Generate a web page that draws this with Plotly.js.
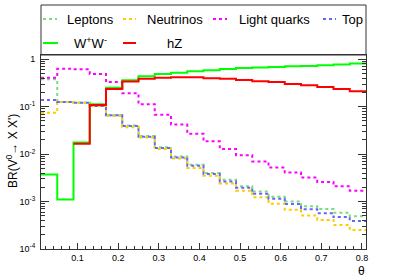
<!DOCTYPE html>
<html>
<head>
<meta charset="utf-8">
<script src="https://cdn.plot.ly/plotly-3.0.1.min.js"></script>
<style>html,body{margin:0;padding:0;background:#fff;}#chart{width:407px;height:277px;}</style>
</head>
<body>
<div id="chart"></div>
<script>
// Bin edges in theta
const binEdges = [0.01,0.05,0.09,0.13,0.17,0.21,0.25,0.29,0.33,0.37,0.41,0.45,0.49,0.53,0.57,0.61,0.65,0.69,0.73,0.77,0.81];

const leptons = [0.38,0.126,0.122,0.104,0.067,0.040,0.024,0.0140,0.0089,0.0060,0.0040,0.0029,0.0021,0.00163,0.00126,0.00100,0.00080,0.00070,0.00058,0.00049];
const neutrinos = [0.075,0.125,0.120,0.102,0.064,0.037,0.0225,0.0129,0.0081,0.0051,0.0035,0.0024,0.0017,0.00124,0.00090,0.00067,0.00051,0.00041,0.00032,0.00025];
const lightQuarks = [0.41,0.63,0.615,0.49,0.33,0.192,0.113,0.068,0.042,0.027,0.0186,0.0129,0.0095,0.0070,0.0052,0.0041,0.0032,0.0026,0.0021,0.0017];
const topQ = [0.139,0.125,0.121,0.103,0.066,0.039,0.0232,0.0135,0.0085,0.0057,0.0038,0.00265,0.00196,0.00146,0.00115,0.00089,0.00069,0.00057,0.00047,0.00039];
const wwPair = [0.0037,0.0011,0.0176,0.113,0.25,0.36,0.44,0.49,0.52,0.56,0.586,0.625,0.656,0.67,0.69,0.71,0.72,0.75,0.78,0.81];
const hZ = [null,null,0.0166,0.108,0.237,0.34,0.39,0.41,0.418,0.418,0.40,0.39,0.366,0.344,0.33,0.30,0.283,0.26,0.237,0.212];

const yTickVals = [1e-4,1e-3,1e-2,1e-1,1];
const yTickText = ['10<sup>-4</sup>','10<sup>-3</sup>','10<sup>-2</sup>','10<sup>-1</sup>','1'];
const xTickVals = [0.1,0.2,0.3,0.4,0.5,0.6,0.7,0.8];
const xTickText = ['0.1','0.2','0.3','0.4','0.5','0.6','0.7','0.8'];

const series = [
  {name:'Leptons', y:leptons, color:'#7ddc7d', dash:'dot'},
  {name:'Neutrinos', y:neutrinos, color:'#ffcc00', dash:'dot'},
  {name:'Light quarks', y:lightQuarks, color:'#ff00ff', dash:'dot'},
  {name:'Top', y:topQ, color:'#6464ff', dash:'dot'},
  {name:'W<sup>+</sup>W<sup>-</sup>', y:wwPair, color:'#00ff00', dash:'solid'},
  {name:'hZ', y:hZ, color:'#ff0000', dash:'solid'}
];

const traces = series.map(s => ({
  type:'scatter', mode:'lines', name:s.name,
  x: binEdges.slice(),
  y: s.y.concat([s.y[s.y.length-1]]),
  line:{shape:'hv', color:s.color, width:2, dash:s.dash},
  connectgaps:false, showlegend:false, hoverinfo:'skip'
}));

// minor tick positions (2..9 per decade)
const yMinor = [];
for (let e=-4; e<0; e++) for (let d=2; d<=9; d++) yMinor.push(d*Math.pow(10,e));

// plot frame in pixels
const L=41, R=366, T=55, B=249;
const px = x => (x-L)/(R-L);
const py = y => (B-y)/(B-T);

const shapes = [
  {type:'rect', xref:'paper', yref:'paper', x0:0, x1:1, y0:py(55), y1:py(5), line:{color:'#333', width:1}, fillcolor:'rgba(0,0,0,0)'}
];
const annotations = [];
const legendItems = [
  {s:0, x0:43, x1:57, tx:66, ty:19},
  {s:1, x0:123, x1:136, tx:146, ty:19},
  {s:2, x0:213, x1:227, tx:238, ty:19},
  {s:3, x0:323, x1:336, tx:341, ty:19},
  {s:4, x0:43, x1:58, tx:73, ty:43},
  {s:5, x0:123, x1:136, tx:166, ty:43}
];
legendItems.forEach(it => {
  const s = series[it.s];
  shapes.push({type:'line', xref:'paper', yref:'paper', x0:px(it.x0), x1:px(it.x1), y0:py(it.ty), y1:py(it.ty),
    line:{color:s.color, width:2, dash:s.dash}});
  annotations.push({xref:'paper', yref:'paper', x:px(it.tx), y:py(it.ty), xanchor:'left', yanchor:'middle',
    text:s.name, showarrow:false, borderpad:0, font:{family:'Liberation Sans, Arial, sans-serif', size:13, color:'#000'}});
});
// axis titles
annotations.push({xref:'paper', yref:'paper', x:px(366), y:py(271), xanchor:'right', yanchor:'middle',
  text:'θ', showarrow:false, borderpad:0, font:{family:'Liberation Sans, Arial, sans-serif', size:12, color:'#000'}});
annotations.push({xref:'paper', yref:'paper', x:px(12), y:py(151), xanchor:'center', yanchor:'middle', textangle:-90,
  text:"BR(V<sup>0</sup>→ X X')", showarrow:false, borderpad:0, font:{family:'Liberation Sans, Arial, sans-serif', size:12, color:'#000'}});

const layout = {
  width:407, height:277,
  margin:{l:L, r:407-R, t:T, b:277-B, pad:0},
  paper_bgcolor:'#fff', plot_bgcolor:'#fff',
  showlegend:false,
  font:{family:'Liberation Sans, Arial, sans-serif', size:9, color:'#000'},
  xaxis:{
    type:'linear', range:[0.01,0.81], showgrid:false, zeroline:false,
    showline:true, linecolor:'#333', linewidth:1, mirror:true,
    ticks:'inside', ticklen:6, tickcolor:'#333', tickwidth:1,
    tickmode:'array', tickvals:xTickVals, ticktext:xTickText,
    tickfont:{size:9}, ticklabelstandoff:0,
    minor:{ticks:'inside', ticklen:3, tickcolor:'#333', tickmode:'linear', tick0:0, dtick:0.02, showgrid:false}
  },
  yaxis:{
    type:'log', range:[-4,0.09], showgrid:false, zeroline:false,
    showline:true, linecolor:'#333', linewidth:1, mirror:'ticks',
    ticks:'inside', ticklen:8, tickcolor:'#333', tickwidth:1,
    tickmode:'array', tickvals:yTickVals, ticktext:yTickText,
    tickfont:{size:9}, ticklabelstandoff:3,
    minor:{ticks:'inside', ticklen:4, tickcolor:'#333', tickmode:'array', tickvals:yMinor, showgrid:false}
  },
  shapes:shapes,
  annotations:annotations
};

Plotly.newPlot('chart', traces, layout, {staticPlot:true, displayModeBar:false});
</script>
</body>
</html>
